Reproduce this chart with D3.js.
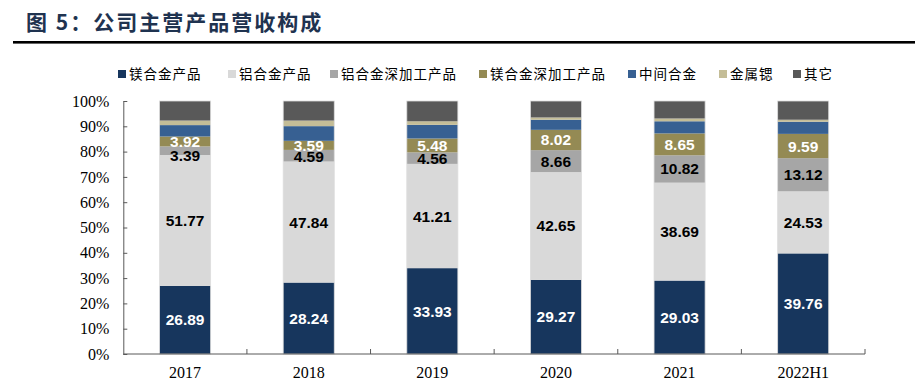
<!DOCTYPE html>
<html lang="zh">
<head>
  <meta charset="UTF-8">
  <title>公司主营产品营收构成</title>
  <style>
    html, body {
      margin: 0;
      padding: 0;
      overflow: hidden;
      width: 100%;
      height: 100%;
      background: white;
    }
    svg {
      position: absolute;
      top: 0;
      left: 0;
    }
  </style>
</head>
<body>
  <svg width="915" height="390"></svg>
</body>
<script src="https://d3js.org/d3.v7.min.js"></script>
<script type="text/javascript">
  // data (share of revenue, %)
  const years = ['2017', '2018', '2019', '2020', '2021', '2022H1']
  const seriesNames = ['镁合金产品', '铝合金产品', '铝合金深加工产品', '镁合金深加工产品', '中间合金', '金属锶', '其它']
  const mgProducts = [26.89, 28.24, 33.93, 29.27, 29.03, 39.76]
  const alProducts = [51.77, 47.84, 41.21, 42.65, 38.69, 24.53]
  const alDeep = [3.39, 4.59, 4.56, 8.66, 10.82, 13.12]
  const mgDeep = [3.92, 3.59, 5.48, 8.02, 8.65, 9.59]
  const masterAlloy = [4.5, 5.8, 5.4, 4.0, 4.8, 4.8]
  const strontium = [1.8, 2.2, 1.4, 0.9, 1.1, 0.8]
  const others = [7.73, 7.74, 8.02, 6.5, 6.91, 7.4]
  const yTicks = [0, 10, 20, 30, 40, 50, 60, 70, 80, 90, 100]

  const colors = ['#17365d', '#d9d9d9', '#a6a6a6', '#948a54', '#376092', '#c4bd97', '#595959']
  const labelColors = ['#fff', '#000', '#000', '#fff']
  const rawSeries = [mgProducts, alProducts, alDeep, mgDeep]

  const svg = d3.select('svg')

  // title
  svg.append('text')
    .attr('x', 26)
    .attr('y', 30)
    .attr('font-family', '"Noto Sans CJK SC", sans-serif')
    .attr('font-weight', 'bold')
    .attr('font-size', 21)
    .attr('letter-spacing', 2)
    .attr('fill', '#1f3350')
    .text('图 5：公司主营产品营收构成')

  svg.append('rect')
    .attr('x', 13)
    .attr('y', 41)
    .attr('width', 902)
    .attr('height', 2.6)
    .attr('fill', '#000')

  // legend
  const legendX = [118, 228, 330, 479, 628, 719, 793]
  const legend = svg.selectAll('g.legend')
    .data(seriesNames)
    .enter()
    .append('g')
    .attr('class', 'legend')
    .attr('transform', (d, i) => 'translate(' + legendX[i] + ',74)')
  legend.append('rect')
    .attr('x', 0)
    .attr('y', -4)
    .attr('width', 8)
    .attr('height', 8)
    .attr('fill', (d, i) => colors[i])
  legend.append('text')
    .attr('x', 11)
    .attr('y', 5)
    .attr('font-family', '"Noto Sans CJK SC", sans-serif')
    .attr('font-size', 13.5)
    .attr('letter-spacing', 1)
    .attr('fill', '#000')
    .text(d => d)

  // scales
  const x = d3.scaleBand()
    .domain(years)
    .range([123.3, 865])
    .paddingInner(0.587)
    .paddingOuter(0.2935)
  const y = d3.scaleLinear()
    .domain([0, 100])
    .range([354, 101])

  const table = years.map((yr, i) => {
    const vals = [mgProducts[i], alProducts[i], alDeep[i], mgDeep[i], masterAlloy[i], strontium[i], others[i]]
    const total = d3.sum(vals)
    return { year: yr, values: vals.map(v => v * 100 / total) }
  })

  const stack = d3.stack()
    .keys(d3.range(seriesNames.length))
    .value((d, k) => d.values[k])
  const layers = stack(table)

  // bars
  const groups = svg.selectAll('g.layer')
    .data(layers)
    .enter()
    .append('g')
    .attr('class', 'layer')
    .attr('fill', d => colors[d.key])
  groups.selectAll('rect')
    .data(d => d)
    .enter()
    .append('rect')
    .attr('x', d => x(d.data.year))
    .attr('width', x.bandwidth())
    .attr('y', d => y(d[1]))
    .attr('height', d => y(d[0]) - y(d[1]))

  // thin light edge round each bar
  svg.selectAll('rect.edge')
    .data(years)
    .enter()
    .append('rect')
    .attr('class', 'edge')
    .attr('x', d => x(d))
    .attr('width', x.bandwidth())
    .attr('y', y(100))
    .attr('height', y(0) - y(100))
    .attr('fill', 'none')
    .attr('stroke', '#dcdcdc')
    .attr('stroke-width', 0.8)

  // data labels (only the first four series carry labels)
  layers.slice(0, 4).forEach(l => {
    svg.append('g')
      .selectAll('text')
      .data(l)
      .enter()
      .append('text')
      .attr('x', d => x(d.data.year) + x.bandwidth() / 2)
      .attr('y', d => {
        const h = y(d[0]) - y(d[1])
        // small grey segment: nudge its label down so it clears the one above
        const shift = l.key === 2 ? Math.max(0, 12 - h) * 1.5 : 0
        return (y(d[0]) + y(d[1])) / 2 + 5.5 + shift
      })
      .attr('text-anchor', 'middle')
      .attr('font-family', '"Liberation Sans", Arial, sans-serif')
      .attr('font-weight', 'bold')
      .attr('font-size', 15.5)
      .attr('fill', labelColors[l.key])
      .text((d, i) => rawSeries[l.key][i].toFixed(2))
  })

  // y axis
  const yAxis = d3.axisLeft(y)
    .tickValues(yTicks)
    .tickFormat(d => d + '%')
    .tickSizeInner(-4)
    .tickSizeOuter(0)
    .tickPadding(14)
  const gy = svg.append('g')
    .attr('transform', 'translate(123.3,0)')
    .call(yAxis)
  gy.selectAll('path, line').attr('stroke', '#595959')
  gy.selectAll('text')
    .attr('font-family', '"Liberation Serif", "Times New Roman", serif')
    .attr('font-size', 16)
    .attr('fill', '#000')

  // x axis
  const gx = svg.append('g')
  gx.append('line')
    .attr('x1', 123.3)
    .attr('x2', 865)
    .attr('y1', y(0))
    .attr('y2', y(0))
    .attr('stroke', '#595959')
  const bounds = years.map(d => x(d) - x.step() * x.paddingInner() / 2)
  bounds.push(865)
  gx.selectAll('line.tick')
    .data(bounds.slice(1))
    .enter()
    .append('line')
    .attr('class', 'tick')
    .attr('x1', d => d)
    .attr('x2', d => d)
    .attr('y1', y(0))
    .attr('y2', y(0) - 5)
    .attr('stroke', '#595959')
  gx.selectAll('text')
    .data(years)
    .enter()
    .append('text')
    .attr('x', d => x(d) + x.bandwidth() / 2)
    .attr('y', 378)
    .attr('text-anchor', 'middle')
    .attr('font-family', '"Liberation Serif", "Times New Roman", serif')
    .attr('font-size', 16)
    .attr('fill', '#000')
    .text(d => d)
</script>
</html>
